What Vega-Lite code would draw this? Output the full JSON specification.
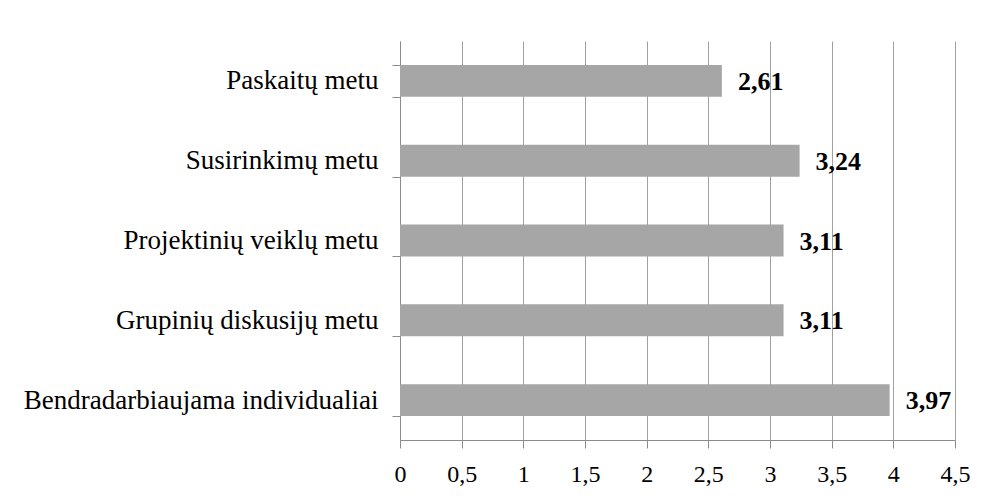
{
  "$schema": "https://vega.github.io/schema/vega-lite/v6.json",
  "width": 555,
  "height": 399,
  "autosize": {"type": "none"},
  "padding": {"left": 400, "top": 41, "right": 32, "bottom": 57},
  "background": "white",
  "config": {
    "locale": {"number": {"decimal": ",", "thousands": " ", "grouping": [3], "currency": ["", " €"]}},
    "view": {"stroke": null},
    "font": "Liberation Serif"
  },
  "data": {
    "values": [
      {"veikla": "Paskaitų metu", "vidurkis": 2.61},
      {"veikla": "Susirinkimų metu", "vidurkis": 3.24},
      {"veikla": "Projektinių veiklų metu", "vidurkis": 3.11},
      {"veikla": "Grupinių diskusijų metu", "vidurkis": 3.11},
      {"veikla": "Bendradarbiaujama individualiai", "vidurkis": 3.97}
    ]
  },
  "encoding": {
    "y": {
      "field": "veikla",
      "type": "nominal",
      "sort": null,
      "title": null,
      "scale": {"paddingInner": 0.6, "paddingOuter": 0.3},
      "axis": {
        "tickBand": "extent",
        "tickSize": 8,
        "tickColor": "#8c8c8c",
        "domainColor": "#8c8c8c",
        "labelPadding": 14,
        "labelFont": "Liberation Serif",
        "labelFontSize": 27,
        "labelColor": "#000000",
        "labelLimit": 400,
        "grid": false
      }
    },
    "x": {
      "field": "vidurkis",
      "type": "quantitative",
      "title": null,
      "scale": {"domain": [0, 4.5], "nice": false, "zero": true},
      "axis": {
        "values": [0, 0.5, 1, 1.5, 2, 2.5, 3, 3.5, 4, 4.5],
        "format": ".1~f",
        "tickSize": 8,
        "tickColor": "#8c8c8c",
        "domainColor": "#8c8c8c",
        "grid": true,
        "gridColor": "#a0a0a0",
        "gridOpacity": 1,
        "labelPadding": 14,
        "labelFont": "Liberation Serif",
        "labelFontSize": 24,
        "labelColor": "#000000",
        "labelFlush": false
      }
    }
  },
  "layer": [
    {"mark": {"type": "bar", "color": "#a6a6a6"}},
    {
      "mark": {"type": "text", "align": "left", "baseline": "middle", "dx": 16, "dy": 1, "fontWeight": "bold", "fontSize": 26, "font": "Liberation Serif", "color": "#000000"},
      "encoding": {"text": {"field": "vidurkis", "type": "quantitative", "format": ".2f"}}
    }
  ]
}
